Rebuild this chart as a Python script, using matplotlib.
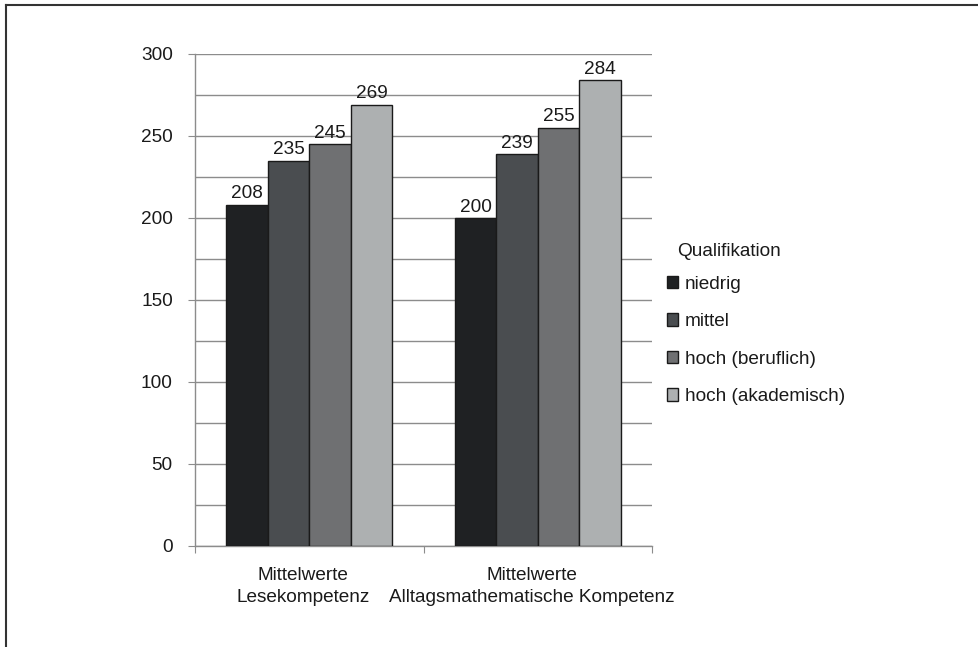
import matplotlib
matplotlib.use("Agg")
import matplotlib.pyplot as plt
from matplotlib.lines import Line2D
from matplotlib.patches import Patch
import matplotlib.transforms as mtransforms
import numpy as np

plt.rcParams['font.family'] = ['Liberation Sans', 'DejaVu Sans']

categories = ["Mittelwerte\nLesekompetenz", "Mittelwerte\nAlltagsmathematische Kompetenz"]
series_names = ["niedrig", "mittel", "hoch (beruflich)", "hoch (akademisch)"]
values = {
    "niedrig": [208, 200],
    "mittel": [235, 239],
    "hoch (beruflich)": [245, 255],
    "hoch (akademisch)": [269, 284],
}
colors = ["#1f2123", "#4a4d50", "#6f7072", "#adb0b1"]
yticks = [0, 50, 100, 150, 200, 250, 300]
legend_title = "Qualifikation"

FS = 13.7
TXT = "#1a1a1a"
GRID = "#8c8c8c"

fig = plt.figure(figsize=(9.79, 6.47), dpi=100)
ax = fig.add_axes([195/979, 1-546/647, (652-195)/979, (546-54)/647])

x = np.arange(len(categories))
group_w = 0.727
bw = group_w / len(series_names)
for i, name in enumerate(series_names):
    pos = x - group_w/2 + bw*(i+0.5)
    bars = ax.bar(pos, values[name], width=bw, color=colors[i], edgecolor="#1a1a1a",
                  linewidth=1.0, zorder=3, label=name)
    for b, v in zip(bars, values[name]):
        ax.text(b.get_x()+b.get_width()/2, v+1.5, str(v), ha="center", va="bottom",
                fontsize=FS, color=TXT)

ax.set_xlim(-0.5, 1.5)
ax.set_ylim(0, 300)
ax.set_yticks(yticks)
ax.set_yticks(np.arange(0, 301, 25), minor=True)
ax.yaxis.grid(True, which="both", color=GRID, linewidth=1.0, zorder=0)
ax.tick_params(axis="y", which="minor", length=0)
ax.tick_params(axis="y", which="major", length=5, color=GRID, labelsize=FS,
               labelcolor=TXT, pad=11)
ax.set_xticks([-0.5, 0.5, 1.5])
ax.set_xticklabels([])
ax.set_xticks(x, minor=True)
ax.set_xticklabels(categories, minor=True, fontsize=FS, color=TXT, linespacing=1.42)
ax.tick_params(axis="x", which="major", length=5, color=GRID)
ax.tick_params(axis="x", which="minor", length=0, pad=15)
offset = mtransforms.ScaledTranslation(-6/100, 0, fig.dpi_scale_trans)
for lbl in ax.get_xticklabels(minor=True):
    lbl.set_transform(lbl.get_transform() + offset)
for s in ["top", "right"]:
    ax.spines[s].set_visible(False)
for s in ["left", "bottom"]:
    ax.spines[s].set_color(GRID)
    ax.spines[s].set_linewidth(1.0)

fig.text(677/979, 1-252/647, legend_title, ha="left", va="center", fontsize=FS, color=TXT)
handles = [Patch(facecolor=c, edgecolor="#1a1a1a", linewidth=1.0) for c in colors]
leg = fig.legend(handles, series_names, loc="upper left",
                 bbox_to_anchor=(659/979, 1-268/647), frameon=False, fontsize=FS,
                 handlelength=0.62, handleheight=0.62,
                 handletextpad=0.33, labelspacing=1.08, borderaxespad=0)
for t in leg.get_texts():
    t.set_color(TXT)

fig.add_artist(Line2D([6/979, 6/979], [0, 1-5/647], transform=fig.transFigure,
                      color="#333333", linewidth=1.5))
fig.add_artist(Line2D([6/979, 1], [1-5/647, 1-5/647], transform=fig.transFigure,
                      color="#333333", linewidth=1.5))

fig.savefig("out.png", dpi=100)
